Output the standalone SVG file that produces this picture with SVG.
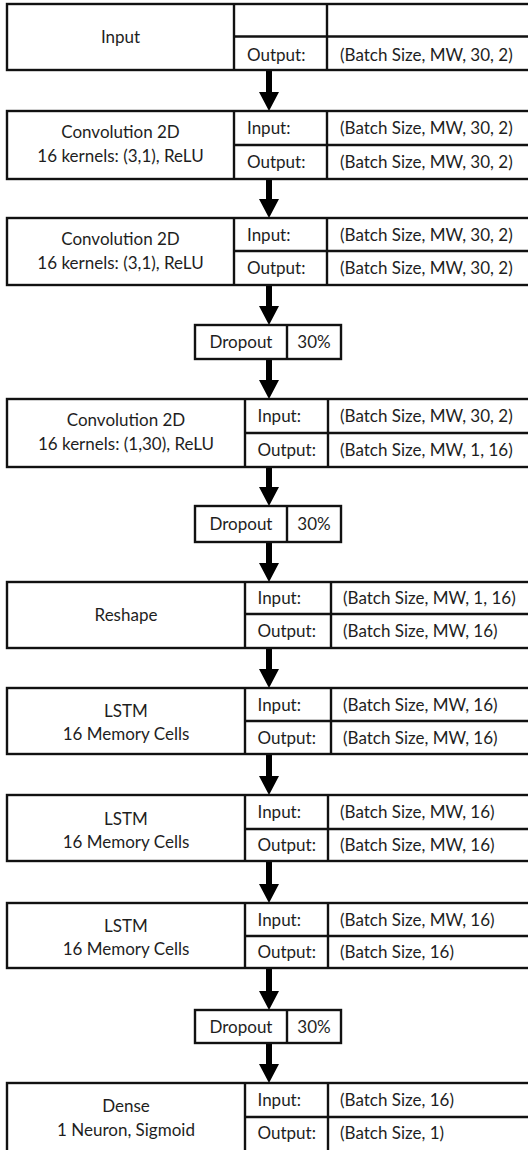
<svg xmlns="http://www.w3.org/2000/svg" width="528" height="1150" viewBox="0 0 528 1150">
<style>
rect,line{fill:#fff;stroke:#111;stroke-width:2.4}
line{fill:none}
text{font-family:Lato,"Liberation Sans",sans-serif;font-size:17px;fill:#1e1e1e}
.c{text-anchor:middle}
.arr{fill:#000;stroke:none}
</style>
<g id="connectors">
<path class="arr" d="M266,70 H272 V92 H279 L269,111 L259,92 H266 Z"/>
<path class="arr" d="M266,179 H272 V199 H279 L269,218 L259,199 H266 Z"/>
<path class="arr" d="M266,285 H272 V306 H279 L269,325 L259,306 H266 Z"/>
<path class="arr" d="M266,359 H272 V380 H279 L269,399 L259,380 H266 Z"/>
<path class="arr" d="M266,467 H272 V487 H279 L269,506 L259,487 H266 Z"/>
<path class="arr" d="M266,542 H272 V563 H279 L269,582 L259,563 H266 Z"/>
<path class="arr" d="M266,648 H272 V669 H279 L269,688 L259,669 H266 Z"/>
<path class="arr" d="M266,754 H272 V776 H279 L269,795 L259,776 H266 Z"/>
<path class="arr" d="M266,861 H272 V884 H279 L269,903 L259,884 H266 Z"/>
<path class="arr" d="M266,968 H272 V991 H279 L269,1010 L259,991 H266 Z"/>
<path class="arr" d="M266,1043 H272 V1064 H279 L269,1083 L259,1064 H266 Z"/>
</g>
<g id="input">
<rect x="7" y="4" width="524" height="66"/>
<line x1="234" y1="4" x2="234" y2="70"/><line x1="327" y1="4" x2="327" y2="70"/>
<line x1="234" y1="36.5" x2="531" y2="36.5"/>
<text class="c" x="120.5" y="43">Input</text>
<text x="247" y="61">Output:</text><text x="340" y="61">(Batch Size, MW, 30, 2)</text>
</g>
<g id="conv1">
<rect x="7" y="111" width="524" height="68"/>
<line x1="234" y1="111" x2="234" y2="179"/><line x1="327" y1="111" x2="327" y2="179"/>
<line x1="234" y1="145" x2="531" y2="145"/>
<text class="c" x="120.5" y="138">Convolution 2D</text>
<text class="c" x="120.5" y="162">16 kernels: (3,1), ReLU</text>
<text x="247" y="134">Input:</text><text x="340" y="134">(Batch Size, MW, 30, 2)</text>
<text x="247" y="168">Output:</text><text x="340" y="168">(Batch Size, MW, 30, 2)</text>
</g>
<g id="conv2">
<rect x="7" y="218" width="524" height="67"/>
<line x1="234" y1="218" x2="234" y2="285"/><line x1="327" y1="218" x2="327" y2="285"/>
<line x1="234" y1="251" x2="531" y2="251"/>
<text class="c" x="120.5" y="245">Convolution 2D</text>
<text class="c" x="120.5" y="269">16 kernels: (3,1), ReLU</text>
<text x="247" y="240.5">Input:</text><text x="340" y="240.5">(Batch Size, MW, 30, 2)</text>
<text x="247" y="274">Output:</text><text x="340" y="274">(Batch Size, MW, 30, 2)</text>
</g>
<g id="dropout1">
<rect x="195" y="325" width="146" height="34"/>
<line x1="287" y1="325" x2="287" y2="359"/>
<text class="c" x="241" y="348">Dropout</text><text class="c" x="314" y="348">30%</text>
</g>
<g id="conv3">
<rect x="7" y="399" width="524" height="68"/>
<line x1="245" y1="399" x2="245" y2="467"/><line x1="328" y1="399" x2="328" y2="467"/>
<line x1="245" y1="433" x2="531" y2="433"/>
<text class="c" x="126" y="426">Convolution 2D</text>
<text class="c" x="126" y="450">16 kernels: (1,30), ReLU</text>
<text x="257.5" y="422">Input:</text><text x="340" y="422">(Batch Size, MW, 30, 2)</text>
<text x="257.5" y="456">Output:</text><text x="340" y="456">(Batch Size, MW, 1, 16)</text>
</g>
<g id="dropout2">
<rect x="195" y="506" width="146" height="36"/>
<line x1="287" y1="506" x2="287" y2="542"/>
<text class="c" x="241" y="530">Dropout</text><text class="c" x="314" y="530">30%</text>
</g>
<g id="reshape">
<rect x="7" y="582" width="524" height="66"/>
<line x1="245" y1="582" x2="245" y2="648"/><line x1="331" y1="582" x2="331" y2="648"/>
<line x1="245" y1="614" x2="531" y2="614"/>
<text class="c" x="126" y="621">Reshape</text>
<text x="257.5" y="604">Input:</text><text x="343" y="604">(Batch Size, MW, 1, 16)</text>
<text x="257.5" y="637">Output:</text><text x="343" y="637">(Batch Size, MW, 16)</text>
</g>
<g id="lstm1">
<rect x="7" y="688" width="524" height="66"/>
<line x1="245" y1="688" x2="245" y2="754"/><line x1="331" y1="688" x2="331" y2="754"/>
<line x1="245" y1="721" x2="531" y2="721"/>
<text class="c" x="126" y="717">LSTM</text>
<text class="c" x="126" y="740">16 Memory Cells</text>
<text x="257.5" y="710.5">Input:</text><text x="343" y="710.5">(Batch Size, MW, 16)</text>
<text x="257.5" y="743.5">Output:</text><text x="343" y="743.5">(Batch Size, MW, 16)</text>
</g>
<g id="lstm2">
<rect x="7" y="795" width="524" height="66"/>
<line x1="245" y1="795" x2="245" y2="861"/><line x1="328" y1="795" x2="328" y2="861"/>
<line x1="245" y1="829" x2="531" y2="829"/>
<text class="c" x="126" y="825">LSTM</text>
<text class="c" x="126" y="848">16 Memory Cells</text>
<text x="257.5" y="818">Input:</text><text x="340" y="818">(Batch Size, MW, 16)</text>
<text x="257.5" y="851">Output:</text><text x="340" y="851">(Batch Size, MW, 16)</text>
</g>
<g id="lstm3">
<rect x="7" y="903" width="524" height="65"/>
<line x1="245" y1="903" x2="245" y2="968"/><line x1="328" y1="903" x2="328" y2="968"/>
<line x1="245" y1="936" x2="531" y2="936"/>
<text class="c" x="126" y="932">LSTM</text>
<text class="c" x="126" y="955">16 Memory Cells</text>
<text x="257.5" y="925.5">Input:</text><text x="340" y="925.5">(Batch Size, MW, 16)</text>
<text x="257.5" y="958">Output:</text><text x="340" y="958">(Batch Size, 16)</text>
</g>
<g id="dropout3">
<rect x="195" y="1010" width="146" height="33"/>
<line x1="287" y1="1010" x2="287" y2="1043"/>
<text class="c" x="241" y="1032.5">Dropout</text><text class="c" x="314" y="1032.5">30%</text>
</g>
<g id="dense">
<rect x="7" y="1083" width="524" height="70"/>
<line x1="245" y1="1083" x2="245" y2="1153"/><line x1="328" y1="1083" x2="328" y2="1153"/>
<line x1="245" y1="1117" x2="531" y2="1117"/>
<text class="c" x="126" y="1112">Dense</text>
<text class="c" x="126" y="1136">1 Neuron, Sigmoid</text>
<text x="257.5" y="1106">Input:</text><text x="340" y="1106">(Batch Size, 16)</text>
<text x="257.5" y="1139">Output:</text><text x="340" y="1139">(Batch Size, 1)</text>
</g>
</svg>
